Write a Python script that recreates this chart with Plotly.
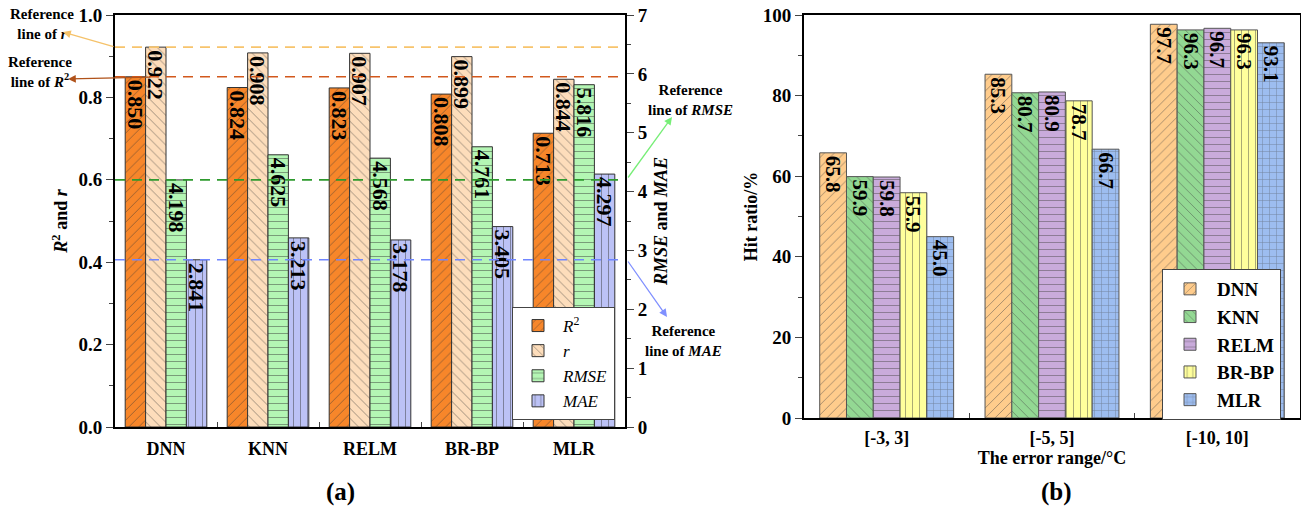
import plotly.graph_objects as go

# ---------------- data ----------------
models = ["DNN", "KNN", "RELM", "BR-BP", "MLR"]
r2_vals = [0.850, 0.824, 0.823, 0.808, 0.713]
r_vals = [0.922, 0.908, 0.907, 0.899, 0.844]
rmse_vals = [4.198, 4.625, 4.568, 4.761, 5.816]
mae_vals = [2.841, 3.213, 3.178, 3.405, 4.297]

error_ranges = ["[-3, 3]", "[-5, 5]", "[-10, 10]"]
hit_dnn = [65.8, 85.3, 97.7]
hit_knn = [59.9, 80.7, 96.3]
hit_relm = [59.8, 80.9, 96.7]
hit_brbp = [55.9, 78.7, 96.3]
hit_mlr = [45.0, 66.7, 93.1]

# ---------------- layout helpers ----------------
W, H = 1301, 510
FONT = "Liberation Serif"


def fx(p):
    return p / W


def fy(p):
    return 1 - p / H


fig = go.Figure()

# ---------------- panel (a) ----------------
left_specs = [
    ("<i>R</i><sup>2</sup>", r2_vals, "y", "#F7862A", "/", -0.4),
    ("<i>r</i>", r_vals, "y", "#FDDDBB", "\\", -0.2),
    ("<i>RMSE</i>", rmse_vals, "y2", "#B4F6B4", "-", 0.0),
    ("<i>MAE</i>", mae_vals, "y2", "#BCC2F6", "|", 0.2),
]
for name, vals, yax, col, shp, off in left_specs:
    fig.add_trace(go.Bar(
        x=models, y=vals, xaxis="x", yaxis=yax, name=name,
        width=0.2, offset=off,
        marker=dict(color=col, line=dict(color="#333333", width=1),
                    pattern=dict(shape=shp, fgcolor="#333333", bgcolor=col,
                                 size=7, solidity=0.13, fillmode="overlay")),
        text=[f"{v:.3f}" for v in vals], textposition="inside",
        insidetextanchor="end", textangle=90, constraintext="none",
        insidetextfont=dict(family=FONT, size=22, color="black", weight="bold"),
        cliponaxis=False, legend="legend",
    ))

# ---------------- panel (b) ----------------
right_specs = [
    ("DNN", hit_dnn, "#FFCC8C", "/"),
    ("KNN", hit_knn, "#93D893", "\\"),
    ("RELM", hit_relm, "#C9ABDB", "-"),
    ("BR-BP", hit_brbp, "#FFFF9C", "|"),
    ("MLR", hit_mlr, "#9DBDF0", "+"),
]
bw = 0.162
for i, (name, vals, col, shp) in enumerate(right_specs):
    fig.add_trace(go.Bar(
        x=error_ranges, y=vals, xaxis="x2", yaxis="y3", name=name,
        width=bw, offset=-2.5 * bw + i * bw,
        marker=dict(color=col, line=dict(color="#555555", width=1),
                    pattern=dict(shape=shp, fgcolor="#444444", bgcolor=col,
                                 size=7, solidity=0.13, fillmode="overlay")),
        text=[f"{v:.1f}" for v in vals], textposition="inside",
        insidetextanchor="end", textangle=90, constraintext="none",
        insidetextfont=dict(family=FONT, size=21, color="black", weight="bold"),
        cliponaxis=False, legend="legend2",
    ))

# reference lines (best model = DNN)
ref_lines = [
    ("y", r_vals[0], "#F7C46C"),
    ("y", r2_vals[0], "#D2581C"),
    ("y2", rmse_vals[0], "#2E9A2E"),
    ("y2", mae_vals[0], "#7086FF"),
]
for yref, val, col in ref_lines:
    fig.add_shape(type="line", xref="x domain", x0=0, x1=1, yref=yref,
                  y0=val, y1=val, layer="above",
                  line=dict(color=col, width=1.6, dash="10px,7px"))

axis_common = dict(showline=True, linecolor="black", linewidth=2,
                   showgrid=False, zeroline=False, automargin=False)
tickfont = dict(family=FONT, size=19, color="black", weight="bold")

fig.update_layout(
    width=W, height=H,
    margin=dict(l=0, r=0, t=0, b=0, pad=0, autoexpand=False),
    paper_bgcolor="white", plot_bgcolor="white",
    barmode="overlay",
    font=dict(family=FONT, color="black"),
    xaxis=dict(domain=[fx(115), fx(625)], anchor="y", mirror=True,
               ticks="inside", tickson="boundaries", ticklen=5,
               tickfont=dict(family=FONT, size=18, color="black", weight="bold"),
               ticklabelstandoff=4, **axis_common),
    yaxis=dict(domain=[fy(427), fy(15)], anchor="x", range=[0, 1],
               dtick=0.2, tickformat=".1f", ticks="outside", ticklen=7,
               minor=dict(dtick=0.1, ticks="outside", ticklen=4),
               tickfont=tickfont,
               title=dict(text="<i>R</i><sup>2</sup> and <i>r</i>",
                          font=dict(family=FONT, size=18, weight="bold"),
                          standoff=6),
               **axis_common),
    yaxis2=dict(overlaying="y", side="right", anchor="x", range=[0, 7],
                dtick=1, ticks="outside", ticklen=7,
                minor=dict(dtick=0.5, ticks="outside", ticklen=4),
                tickfont=tickfont,
                title=dict(text="<i>RMSE</i> and <i>MAE</i>",
                           font=dict(family=FONT, size=18, weight="bold"),
                           standoff=8),
                **axis_common),
    xaxis2=dict(domain=[fx(804), fx(1300)], anchor="y3", mirror=True,
                ticks="inside", tickson="boundaries", ticklen=5,
                tickfont=dict(family=FONT, size=18, color="black", weight="bold"),
                ticklabelstandoff=2,
                title=dict(text="The error range/°C",
                           font=dict(family=FONT, size=18, weight="bold"),
                           standoff=2),
                **axis_common),
    yaxis3=dict(domain=[fy(418), fy(15)], anchor="x2", range=[0, 100],
                dtick=20, ticks="outside", ticklen=7, mirror=True,
                minor=dict(dtick=10, ticks="outside", ticklen=4),
                tickfont=tickfont,
                title=dict(text="Hit ratio/%",
                           font=dict(family=FONT, size=18, weight="bold"),
                           standoff=0),
                **axis_common),
    legend=dict(x=fx(512), y=fy(420), xanchor="left", yanchor="bottom",
                bgcolor="white", bordercolor="#444444", borderwidth=1,
                font=dict(family=FONT, size=17, color="black"),
                tracegroupgap=0, itemwidth=40),
    legend2=dict(x=fx(1162), y=fy(420), xanchor="left", yanchor="bottom",
                 bgcolor="white", bordercolor="#444444", borderwidth=1,
                 font=dict(family=FONT, size=19, color="black", weight="bold"),
                 tracegroupgap=0, itemwidth=44),
)

# annotations
ann_font = dict(family=FONT, size=15, color="black", weight="bold")
texts = [
    ("Reference<br>line of <i>r</i>", 42, 24),
    ("Reference<br>line of <i>R</i><sup>2</sup>", 40, 72),
    ("Reference<br>line of <i>RMSE</i>", 690, 100),
    ("Reference<br>line of <i>MAE</i>", 683, 341),
]
for t, px, py in texts:
    fig.add_annotation(text=t, x=fx(px), y=fy(py), xref="paper", yref="paper",
                       xanchor="center", yanchor="middle",
                       showarrow=False, font=ann_font, align="center")

arrows = [
    ((63, 32), (115, 47), "#F5C26A"),
    ((68, 79), (152, 77), "#B0521A"),
    ((672, 117), (627, 179), "#77EE77"),
    ((667, 317), (627, 260), "#8090FF"),
]
for (hx, hy), (tx, ty), col in arrows:
    fig.add_annotation(text="", x=fx(hx), y=fy(hy), xref="paper", yref="paper",
                       ax=tx - hx, ay=ty - hy, axref="pixel", ayref="pixel",
                       showarrow=True, arrowhead=2, arrowsize=1.2,
                       arrowwidth=1.3, arrowcolor=col, standoff=0,
                       startstandoff=0)

for lbl, px in (("(a)", 340), ("(b)", 1056)):
    fig.add_annotation(text=lbl, x=fx(px), y=fy(492), xref="paper",
                       yref="paper", xanchor="center", yanchor="middle",
                       showarrow=False,
                       font=dict(family=FONT, size=25, color="black",
                                 weight="bold"))

fig.write_html("out.html")
